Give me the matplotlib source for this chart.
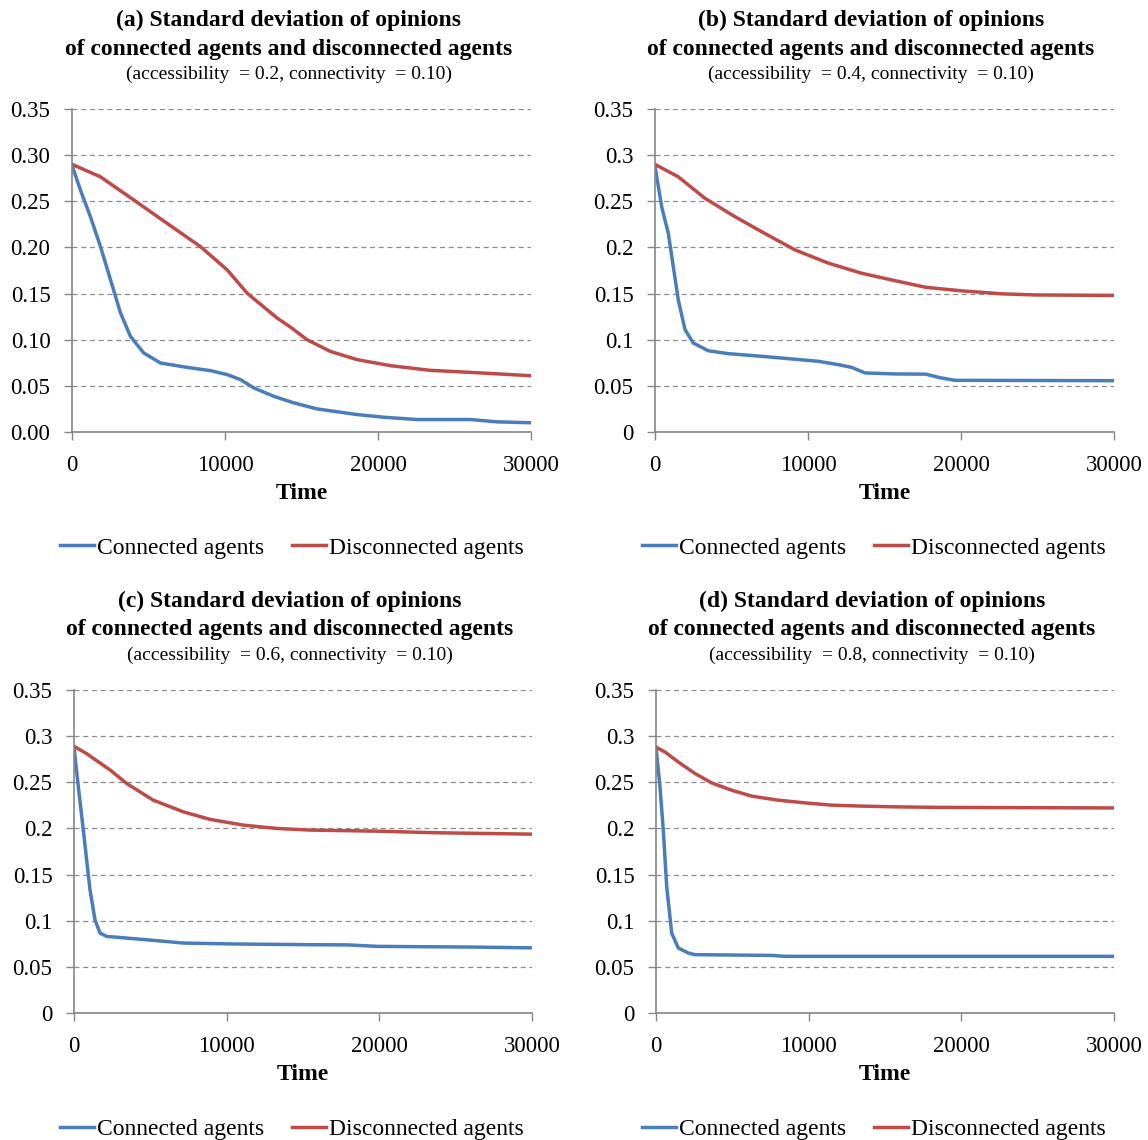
import matplotlib
matplotlib.use("Agg")
import matplotlib.pyplot as plt
from matplotlib.lines import Line2D

# time steps and std. deviation readings for each panel
t_a_conn = [0, 555, 1210, 1860, 2515, 3170, 3820, 4690, 5780, 7525, 9050, 10140, 11010, 11880,
            13185, 14490, 16020, 18630, 20370, 22550, 26035, 27780, 30000]
sd_a_conn = [0.289, 0.262, 0.233, 0.201, 0.165, 0.129, 0.1036, 0.0856, 0.0748, 0.070, 0.0665,
             0.0622, 0.0568, 0.0478, 0.0387, 0.0316, 0.025, 0.0189, 0.016, 0.0135, 0.0135,
             0.011, 0.010]
t_a_disc = [0, 1860, 4040, 6220, 8395, 10140, 11445, 13405, 14275, 15360, 16890, 18630, 20810,
            23420, 26035, 30000]
sd_a_disc = [0.290, 0.2765, 0.2514, 0.226, 0.2009, 0.1757, 0.1505, 0.1235, 0.1137, 0.100, 0.0873,
             0.0784, 0.0719, 0.0668, 0.0646, 0.061]

t_b_conn = [0, 437, 870, 1197, 1523, 1961, 2505, 3486, 4793, 6972, 8713, 10674, 11981, 12854,
            13725, 15686, 17690, 18640, 19600, 30000]
sd_b_conn = [0.288, 0.244, 0.2153, 0.179, 0.143, 0.111, 0.0964, 0.088, 0.0849, 0.082, 0.0795,
             0.0766, 0.073, 0.070, 0.064, 0.0629, 0.0627, 0.0588, 0.056, 0.0556]
t_b_disc = [0, 1523, 3268, 5229, 6972, 9150, 11328, 13507, 15686, 17690, 20080, 22700, 24860, 30000]
sd_b_disc = [0.290, 0.2765, 0.2532, 0.2333, 0.217, 0.1973, 0.183, 0.172, 0.164, 0.1568, 0.1529,
             0.1497, 0.1485, 0.148]

t_c_conn = [0, 284, 611, 1048, 1375, 1703, 2140, 3450, 5195, 7160, 10435, 15460, 17930, 19840,
            26300, 30000]
sd_c_conn = [0.288, 0.245, 0.198, 0.1334, 0.101, 0.0866, 0.083, 0.0812, 0.0787, 0.0758, 0.0748,
             0.074, 0.0738, 0.0722, 0.0714, 0.0706]
t_c_disc = [0, 830, 2390, 3450, 5195, 7160, 8908, 11090, 13277, 15460, 20000, 23430, 30000]
sd_c_disc = [0.289, 0.281, 0.263, 0.2487, 0.2306, 0.218, 0.2098, 0.2036, 0.200, 0.1982, 0.197,
             0.1954, 0.1938]

t_d_conn = [0, 262, 478, 700, 1028, 1460, 2115, 2555, 7578, 8450, 15655, 30000]
sd_d_conn = [0.288, 0.245, 0.198, 0.137, 0.0866, 0.0704, 0.065, 0.0632, 0.0624, 0.0614, 0.0614,
             0.0614]
t_d_disc = [0, 590, 1460, 2555, 3647, 4958, 6268, 8010, 9760, 11508, 13470, 15655, 18570, 30000]
sd_d_disc = [0.288, 0.2828, 0.272, 0.2595, 0.2493, 0.2414, 0.235, 0.2306, 0.2277, 0.2252, 0.2242,
             0.2234, 0.2228, 0.2222]

panel_letters = ["a", "b", "c", "d"]
accessibility = ["0.2", "0.4", "0.6", "0.8"]
connectivity = "0.10"
yticks = [0, 0.05, 0.10, 0.15, 0.20, 0.25, 0.30, 0.35]
ytick_labels_a = ["0.00", "0.05", "0.10", "0.15", "0.20", "0.25", "0.30", "0.35"]
ytick_labels_other = ["0", "0.05", "0.1", "0.15", "0.2", "0.25", "0.3", "0.35"]
xticks = [0, 10000, 20000, 30000]
series_names = ["Connected agents", "Disconnected agents"]

BLUE = "#4a7ebb"
RED = "#be4b48"
AXIS_GREY = "#868686"
SERIF = ["Liberation Serif", "DejaVu Serif"]

plt.rcParams["font.family"] = SERIF

W, H = 1148, 1140
fig = plt.figure(figsize=(W / 100, H / 100), dpi=100)

# pixel boxes: (left, right, top, bottom)
boxes = [(72, 531, 109, 432), (655, 1114, 109, 432),
         (74, 532, 690, 1013), (656, 1114, 690, 1013)]
title_x = [289, 871, 290, 872]
legend_x = [292, 874, 292, 874]
data = [(t_a_conn, sd_a_conn, t_a_disc, sd_a_disc),
        (t_b_conn, sd_b_conn, t_b_disc, sd_b_disc),
        (t_c_conn, sd_c_conn, t_c_disc, sd_c_disc),
        (t_d_conn, sd_d_conn, t_d_disc, sd_d_disc)]

for i, (l, r, t, b) in enumerate(boxes):
    ax = fig.add_axes([l / W, 1 - b / H, (r - l) / W, (b - t) / H])
    tc, sc, td, sd = data[i]
    ax.plot(tc, sc, color=BLUE, lw=2.5, solid_joinstyle="round")
    ax.plot(td, sd, color=RED, lw=2.5, solid_joinstyle="round")

    ax.set_xlim(0, 30000)
    ax.set_ylim(0, 0.35)
    ax.set_xticks(xticks)
    ax.set_xticklabels([str(x) for x in xticks])
    ax.set_yticks(yticks)
    ax.set_yticklabels(ytick_labels_a if i == 0 else ytick_labels_other)
    ax.tick_params(axis="both", direction="out", length=5.5, width=1, color=AXIS_GREY,
                   labelsize=16.5)
    ax.tick_params(axis="y", pad=10)
    ax.tick_params(axis="x", pad=11)
    ax.yaxis.grid(True, linestyle=(0, (4, 3)), color="#8c8c8c", lw=0.9)
    ax.set_axisbelow(True)
    for side in ["top", "right"]:
        ax.spines[side].set_visible(False)
    for side in ["left", "bottom"]:
        ax.spines[side].set_color(AXIS_GREY)
        ax.spines[side].set_linewidth(1.2)
    ax.set_xlabel("Time", fontsize=17, fontweight="bold", labelpad=5)

    # titles
    tx = title_x[i] / W
    ty = t - 89
    fig.text(tx, 1 - ty / H, "(%s) Standard deviation of opinions" % panel_letters[i],
             ha="center", va="center", fontsize=17, fontweight="bold")
    fig.text(tx, 1 - (ty + 29) / H, "of connected agents and disconnected agents",
             ha="center", va="center", fontsize=17, fontweight="bold")
    fig.text(tx, 1 - (ty + 54) / H,
             "(accessibility  = %s, connectivity  = %s)" % (accessibility[i], connectivity),
             ha="center", va="center", fontsize=14)

    # legend under each chart
    handles = [Line2D([], [], color=BLUE, lw=2.5), Line2D([], [], color=RED, lw=2.5)]
    fig.legend(handles, series_names, loc="center",
               bbox_to_anchor=(legend_x[i] / W, 1 - (b + 116) / H),
               ncol=2, frameon=False, fontsize=17, handlelength=1.45,
               handletextpad=0.13, columnspacing=1.15, borderpad=0)

fig.savefig("out.png", dpi=100, facecolor="white")
